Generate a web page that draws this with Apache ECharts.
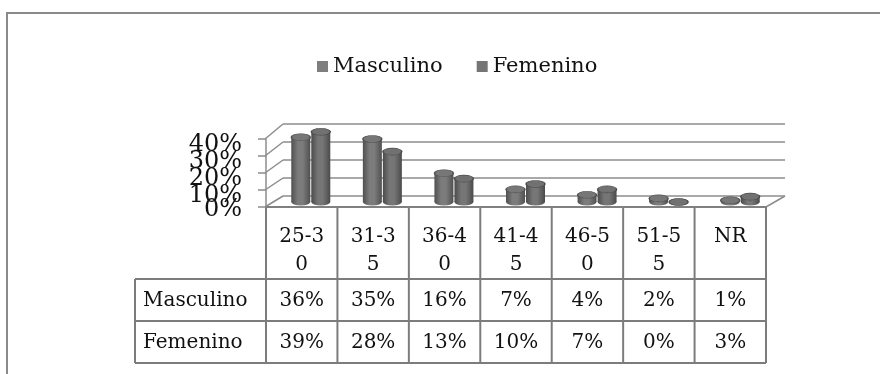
<!DOCTYPE html>
<html>
<head>
<meta charset="utf-8">
<style>
html, body { margin: 0; padding: 0; background: #fff; }
#chart { width: 880px; height: 374px; }
</style>
<script src="https://cdn.jsdelivr.net/npm/echarts@6/dist/echarts.min.js"></script>
</head>
<body>
<div id="chart"></div>
<script>
const categories = ['25-30', '31-35', '36-40', '41-45', '46-50', '51-55', 'NR'];
const masculino = [36, 35, 16, 7, 4, 2, 1];
const femenino = [39, 28, 13, 10, 7, 0, 3];
const seriesNames = ['Masculino', 'Femenino'];
const yTicks = [0, 10, 20, 30, 40];

const FONT = 'DejaVu Serif';
const LINE = '#8c8c8c';
const TEXT = '#111';

// 3d box: back wall, front face, and the middle plane where cylinders stand
const back = { left: 283, top: 124, width: 502, height: 72 };
const front = { left: 266, top: 139, width: 500, height: 68 };
const mid = { left: 275, top: 130, width: 501, height: 72 };
// data table rows
const tableLeft = 135, tableTop = 207, headerBottom = 279, row1Bottom = 321, tableBottom = 363;

const cylinder = (offset, colors) => (params, api) => {
    const i = api.value(0);
    const v = api.value(1);
    const top = api.coord([i, v]);
    const base = api.coord([i, 0]);
    const w = 19;
    const ry = 3.5;
    const cx = top[0] + offset;
    const body = new echarts.graphic.LinearGradient(0, 0, 1, 0, [
        { offset: 0, color: colors[0] },
        { offset: 0.35, color: colors[1] },
        { offset: 0.6, color: colors[1] },
        { offset: 1, color: colors[0] }
    ]);
    return {
        type: 'group',
        children: [
            { type: 'circle', shape: { cx: 0, cy: 0, r: w / 2 }, x: cx, y: base[1], scaleY: ry * 2 / w, style: { fill: body } },
            { type: 'rect', shape: { x: cx - w / 2, y: top[1], width: w, height: base[1] - top[1] }, style: { fill: body } },
            { type: 'circle', shape: { cx: 0, cy: 0, r: w / 2 }, x: cx, y: top[1], scaleY: ry * 2 / w, style: { fill: colors[2], stroke: colors[0], lineWidth: 1.5 } }
        ]
    };
};

const hiddenAxis = { show: false };

const option = {
    backgroundColor: '#fff',
    animation: false,
    legend: {
        data: seriesNames,
        left: 312,
        top: 51,
        icon: 'rect',
        itemWidth: 11,
        itemHeight: 11,
        itemGap: 34,
        textStyle: { fontFamily: FONT, fontSize: 21, color: TEXT }
    },
    grid: [
        Object.assign({ outerBoundsMode: 'none' }, back),
        Object.assign({ outerBoundsMode: 'none' }, front),
        Object.assign({ outerBoundsMode: 'none' }, mid)
    ],
    xAxis: [
        { type: 'category', gridIndex: 0, data: categories, show: false },
        {
            type: 'category', gridIndex: 1, data: categories,
            axisLine: { show: true, lineStyle: { color: '#808080', width: 2 } },
            axisTick: { show: false },
            axisLabel: {
                interval: 0, margin: 16, lineHeight: 28,
                fontFamily: FONT, fontSize: 20, color: TEXT,
                formatter: s => s.length > 4 ? s.slice(0, 4) + '\n' + s.slice(4) : s
            }
        },
        { type: 'category', gridIndex: 2, data: categories, show: false }
    ],
    yAxis: [
        {
            type: 'value', gridIndex: 0, min: 0, max: 40, interval: 10,
            axisLine: hiddenAxis, axisTick: hiddenAxis, axisLabel: hiddenAxis,
            splitLine: { show: true, lineStyle: { color: LINE, width: 1.5 } }
        },
        {
            type: 'value', gridIndex: 1, min: 0, max: 40, interval: 10,
            axisLine: { show: true, lineStyle: { color: LINE, width: 1.5 } },
            axisTick: { show: true, length: 8, lineStyle: { color: LINE, width: 1.5 } },
            splitLine: hiddenAxis,
            axisLabel: hiddenAxis
        },
        { type: 'value', gridIndex: 2, min: 0, max: 40, show: false }
    ],
    series: [
        {
            name: seriesNames[0], type: 'custom', xAxisIndex: 2, yAxisIndex: 2,
            itemStyle: { color: '#7e7e7e' },
            renderItem: cylinder(-10, ['#505050', '#7c7c7c', '#777777']),
            data: masculino.map((v, i) => [i, v])
        },
        {
            name: seriesNames[1], type: 'custom', xAxisIndex: 2, yAxisIndex: 2,
            itemStyle: { color: '#757575' },
            renderItem: cylinder(10, ['#4b4b4b', '#767676', '#717171']),
            data: femenino.map((v, i) => [i, v])
        }
    ]
};

const chart = echarts.init(document.getElementById('chart'));
chart.setOption(option);

// frame: side walls, floor edge, tick labels, data table
const line = (x1, y1, x2, y2, color, width) => ({
    type: 'line', silent: true,
    shape: { x1: x1, y1: y1, x2: x2, y2: y2 },
    style: { stroke: color || LINE, lineWidth: width || 1.5 }
});
const txt = (x, y, s, align, size) => ({
    type: 'text', silent: true, x: x, y: y,
    style: { text: s, fill: TEXT, font: (size || 20) + 'px "' + FONT + '"', align: align || 'center', verticalAlign: 'middle' }
});

const elements = [];
elements.push({
    type: 'polyline', silent: true,
    shape: { points: [[7, 380], [7, 13], [890, 13]] },
    style: { stroke: '#8a8a8a', lineWidth: 2, fill: null }
});
yTicks.forEach(t => {
    const fy = chart.convertToPixel({ yAxisIndex: 1 }, t);
    const by = chart.convertToPixel({ yAxisIndex: 0 }, t);
    elements.push(line(front.left - 1, fy, back.left, by));
    // labels overlap on purpose, like the original
    elements.push(txt(242, fy + (t === 0 ? 3 : 6), t + '%', 'right', 24));
});
const fy0 = chart.convertToPixel({ yAxisIndex: 1 }, 0);
const by0 = chart.convertToPixel({ yAxisIndex: 0 }, 0);
elements.push(line(front.left + front.width, fy0, back.left + back.width, by0));

const TL = '#7c7c7c';
const colW = front.width / categories.length;
const right = front.left + front.width;
elements.push(line(tableLeft, headerBottom, right, headerBottom, TL, 2));
elements.push(line(tableLeft, row1Bottom, right, row1Bottom, TL, 2));
elements.push(line(tableLeft, tableBottom, right, tableBottom, TL, 2));
elements.push(line(tableLeft, headerBottom, tableLeft, tableBottom, TL, 2));
for (let i = 0; i <= categories.length; i++) {
    const x = front.left + i * colW;
    elements.push(line(x, tableTop, x, tableBottom, TL, 2));
}
const rows = [[seriesNames[0], masculino, (headerBottom + row1Bottom) / 2], [seriesNames[1], femenino, (row1Bottom + tableBottom) / 2]];
rows.forEach(r => {
    elements.push(txt(tableLeft + 8, r[2] + 1, r[0], 'left'));
    r[1].forEach((v, i) => {
        elements.push(txt(front.left + (i + 0.5) * colW, r[2] + 1, v + '%'));
    });
});

chart.setOption({ graphic: { elements: elements } });
</script>
</body>
</html>
